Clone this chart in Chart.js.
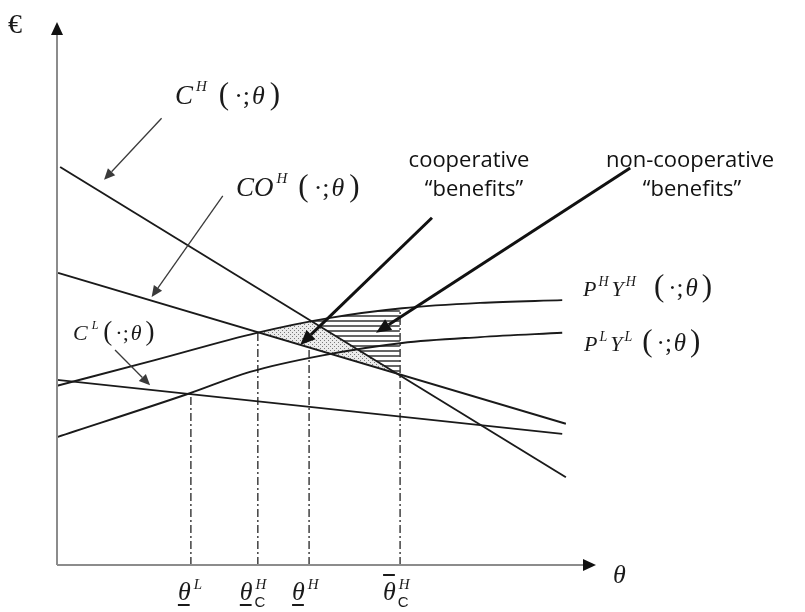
<!DOCTYPE html>
<html>
<head>
<meta charset="utf-8">
<script src="https://cdn.jsdelivr.net/npm/chart.js@4.4.1/dist/chart.umd.min.js"></script>
<style>
  html, body { margin: 0; padding: 0; background: #fff; }
  canvas { display: block; }
</style>
</head>
<body>
<canvas id="myChart" width="805" height="612"></canvas>
<script>
// curves: θ on x, € on y (arbitrary 0-10 units)
var costHx = [0.06, 9.73];
var costHy = [7.44, 1.64];
var coopHx = [0.02, 9.73];
var coopHy = [5.46, 2.64];
var costLx = [0, 9.66];
var costLy = [3.46, 2.45];
var revHx = [0, 1.87, 3.82, 5.22, 6.60, 8.09, 9.66];
var revHy = [3.35, 3.83, 4.34, 4.62, 4.80, 4.90, 4.95];
var revLx = [0, 2.54, 3.69, 5.03, 6.60, 8.09, 9.66];
var revLy = [2.39, 3.21, 3.61, 3.91, 4.15, 4.26, 4.34];

// thresholds on the θ axis and where their dash-dot line stops
var thresholds = ['thetaL', 'thetaCH', 'thetaH', 'thetaBarCH'];
var thresholdX = [2.56, 3.84, 4.82, 6.56];
var thresholdTop = [3.21, 4.37, 4.02, 4.80];

function pts(xs, ys) {
  return xs.map(function (x, i) { return { x: x, y: ys[i] }; });
}

var curve = { borderColor: '#1a1a1a', borderWidth: 1.9, pointRadius: 0, fill: false };
var datasets = [
  Object.assign({ label: 'CH', data: pts(costHx, costHy) }, curve),
  Object.assign({ label: 'COH', data: pts(coopHx, coopHy) }, curve),
  Object.assign({ label: 'CL', data: pts(costLx, costLy) }, curve),
  Object.assign({ label: 'PHYH', data: pts(revHx, revHy), cubicInterpolationMode: 'monotone' }, curve),
  Object.assign({ label: 'PLYL', data: pts(revLx, revLy), cubicInterpolationMode: 'monotone' }, curve)
];
thresholds.forEach(function (name, i) {
  datasets.push({
    label: name,
    data: [{ x: thresholdX[i], y: 0 }, { x: thresholdX[i], y: thresholdTop[i] }],
    borderColor: '#333', borderWidth: 1.4, borderDash: [8, 3, 2, 3],
    pointRadius: 0, fill: false
  });
});

// fill patterns
function makePattern(w, h, paint) {
  var c = document.createElement('canvas');
  c.width = w; c.height = h;
  paint(c.getContext('2d'));
  return document.createElement('canvas').getContext('2d').createPattern(c, 'repeat');
}
var dots = makePattern(4, 4, function (g) {
  g.fillStyle = '#ebebeb'; g.fillRect(0, 0, 4, 4);
  g.fillStyle = '#7a7a7a'; g.fillRect(0, 0, 1, 1); g.fillRect(2, 2, 1, 1);
});
var stripes = makePattern(4, 5, function (g) {
  g.fillStyle = '#ffffff'; g.fillRect(0, 0, 4, 5);
  g.fillStyle = '#666666'; g.fillRect(0, 0, 4, 2);
});

function yOn(chart, idx, X) {
  var line = chart.getDatasetMeta(idx).dataset;
  line.updateControlPoints(chart.chartArea, 'x');
  var p = line.interpolate({ x: X }, 'x');
  if (Array.isArray(p)) p = p[0];
  return p.y;
}

function band(ctx, a, b, topFn, botFn, fill) {
  var top = [], bot = [];
  for (var X = a; X <= b + 0.001; X += 1) {
    var t = topFn(X);
    top.push([X, t]);
    bot.push([X, Math.max(t, botFn(X))]);
  }
  ctx.beginPath();
  top.forEach(function (p, i) { i ? ctx.lineTo(p[0], p[1]) : ctx.moveTo(p[0], p[1]); });
  bot.reverse().forEach(function (p) { ctx.lineTo(p[0], p[1]); });
  ctx.closePath();
  ctx.fillStyle = fill;
  ctx.fill();
}

function arrow(ctx, x0, y0, x1, y1, width, len, half, color) {
  var ang = Math.atan2(y1 - y0, x1 - x0);
  var bx = x1 - len * Math.cos(ang), by = y1 - len * Math.sin(ang);
  ctx.strokeStyle = color; ctx.fillStyle = color; ctx.lineWidth = width;
  ctx.beginPath(); ctx.moveTo(x0, y0); ctx.lineTo(bx, by); ctx.stroke();
  ctx.beginPath();
  ctx.moveTo(x1, y1);
  ctx.lineTo(bx + half * Math.sin(ang), by - half * Math.cos(ang));
  ctx.lineTo(bx - half * Math.sin(ang), by + half * Math.cos(ang));
  ctx.closePath(); ctx.fill();
}

function runs(ctx, x, y, parts) {
  ctx.fillStyle = '#1a1a1a';
  ctx.textBaseline = 'alphabetic';
  ctx.textAlign = 'left';
  parts.forEach(function (p) {
    ctx.font = (p.it ? 'italic ' : '') + p.s + 'px ' + (p.sans ? '"Liberation Sans"' : '"Liberation Serif"');
    x += p.dx || 0;
    ctx.fillText(p.t, x, y + (p.dy || 0));
    x += ctx.measureText(p.t).width;
  });
}

// pointer arrows, in chart units
var pointers = [
  { from: [2.0, 8.35], to: [0.90, 7.20], thick: false },
  { from: [3.17, 6.90], to: [1.81, 5.01], thick: false },
  { from: [1.11, 4.02], to: [1.78, 3.36], thick: false },
  { from: [7.17, 6.49], to: [4.65, 4.11], thick: true },
  { from: [10.96, 7.42], to: [6.10, 4.34], thick: true }
];

var sketch = {
  id: 'sketch',
  beforeDatasetsDraw: function (chart) {
    var ctx = chart.ctx, xs = chart.scales.x;
    var a = xs.getPixelForValue(thresholdX[1]), b = xs.getPixelForValue(thresholdX[3]);
    ctx.save();
    band(ctx, a, b,
      function (X) { return Math.max(yOn(chart, 3, X), yOn(chart, 0, X)); },
      function (X) { return yOn(chart, 1, X); }, dots);
    band(ctx, a, b,
      function (X) { return yOn(chart, 3, X); },
      function (X) { return yOn(chart, 0, X); }, stripes);
    ctx.restore();
  },
  afterDatasetsDraw: function (chart) {
    var ctx = chart.ctx, xs = chart.scales.x, ys = chart.scales.y;
    var area = chart.chartArea;
    ctx.save();
    // axes
    ctx.strokeStyle = '#8c8c8c'; ctx.lineWidth = 2;
    ctx.beginPath();
    ctx.moveTo(area.left, area.bottom); ctx.lineTo(area.left, 34);
    ctx.moveTo(area.left, area.bottom); ctx.lineTo(584, area.bottom);
    ctx.stroke();
    ctx.fillStyle = '#111';
    ctx.beginPath();
    ctx.moveTo(area.left, 22); ctx.lineTo(area.left - 6, 35); ctx.lineTo(area.left + 6, 35); ctx.closePath(); ctx.fill();
    ctx.beginPath();
    ctx.moveTo(596, area.bottom); ctx.lineTo(583, area.bottom - 6); ctx.lineTo(583, area.bottom + 6); ctx.closePath(); ctx.fill();

    pointers.forEach(function (p) {
      var x0 = xs.getPixelForValue(p.from[0]), y0 = ys.getPixelForValue(p.from[1]);
      var x1 = xs.getPixelForValue(p.to[0]), y1 = ys.getPixelForValue(p.to[1]);
      if (p.thick) arrow(ctx, x0, y0, x1, y1, 3, 15, 6.5, '#111');
      else arrow(ctx, x0, y0, x1, y1, 1.3, 11, 5, '#3a3a3a');
    });

    // axis names
    runs(ctx, 8, 33, [{ t: '€', s: 28 }]);
    runs(ctx, 613, 583, [{ t: 'θ', s: 26, it: 1 }]);

    // curve labels
    runs(ctx, 175, 104, [
      { t: 'C', s: 27, it: 1 }, { t: 'H', s: 15, it: 1, dy: -13, dx: 3 },
      { t: '(', s: 31, dx: 12 }, { t: '·;', s: 26, dx: 5 }, { t: 'θ', s: 26, it: 1, dx: 2 }, { t: ')', s: 31, dx: 5 }
    ]);
    runs(ctx, 236, 196, [
      { t: 'CO', s: 27, it: 1 }, { t: 'H', s: 15, it: 1, dy: -13, dx: 3 },
      { t: '(', s: 31, dx: 11 }, { t: '·;', s: 26, dx: 5 }, { t: 'θ', s: 26, it: 1, dx: 2 }, { t: ')', s: 31, dx: 5 }
    ]);
    runs(ctx, 73, 340, [
      { t: 'C', s: 22, it: 1 }, { t: 'L', s: 12, it: 1, dy: -11, dx: 4 },
      { t: '(', s: 27, dx: 5 }, { t: '·;', s: 22, dx: 3 }, { t: 'θ', s: 22, it: 1, dx: 2 }, { t: ')', s: 27, dx: 4 }
    ]);
    runs(ctx, 583, 296, [
      { t: 'P', s: 22, it: 1 }, { t: 'H', s: 14, it: 1, dy: -10, dx: 2 },
      { t: 'Y', s: 22, it: 1, dx: 3 }, { t: 'H', s: 14, it: 1, dy: -10, dx: 2 },
      { t: '(', s: 31, dx: 18 }, { t: '·;', s: 25, dx: 4 }, { t: 'θ', s: 25, it: 1, dx: 2 }, { t: ')', s: 31, dx: 4 }
    ]);
    runs(ctx, 584, 351, [
      { t: 'P', s: 22, it: 1 }, { t: 'L', s: 14, it: 1, dy: -10, dx: 2 },
      { t: 'Y', s: 22, it: 1, dx: 3 }, { t: 'L', s: 14, it: 1, dy: -10, dx: 2 },
      { t: '(', s: 31, dx: 10 }, { t: '·;', s: 25, dx: 4 }, { t: 'θ', s: 25, it: 1, dx: 2 }, { t: ')', s: 31, dx: 4 }
    ]);

    // benefit captions
    ctx.fillStyle = '#111';
    ctx.textAlign = 'center'; ctx.textBaseline = 'middle';
    ctx.font = '22px "Open Sans"';
    ctx.fillText('cooperative', 469, 161);
    ctx.fillText('\u201Cbenefits\u201D', 474, 190);
    ctx.fillText('non-cooperative', 690, 161);
    ctx.fillText('\u201Cbenefits\u201D', 692, 190);

    // threshold labels under the θ axis
    var marks = [
      { off: -13, sup: 'L', sub: '', bar: 'under' },
      { off: -18, sup: 'H', sub: 'C', bar: 'under' },
      { off: -17, sup: 'H', sub: '', bar: 'under' },
      { off: -17, sup: 'H', sub: 'C', bar: 'over' }
    ];
    marks.forEach(function (m, i) {
      var x = xs.getPixelForValue(thresholdX[i]) + m.off;
      ctx.textAlign = 'left'; ctx.textBaseline = 'alphabetic';
      ctx.font = 'italic 26px "Liberation Serif"';
      ctx.fillStyle = '#1a1a1a';
      ctx.fillText('θ', x, 600);
      var w = ctx.measureText('θ').width;
      ctx.fillRect(x, m.bar === 'under' ? 604 : 574, w - 1, 2);
      ctx.font = 'italic 15px "Liberation Serif"';
      ctx.fillText(m.sup, x + w + 3, 589);
      if (m.sub) {
        ctx.font = '15px "Liberation Sans"';
        ctx.fillText(m.sub, x + w + 2, 607);
      }
    });
    ctx.restore();
  }
};

new Chart(document.getElementById('myChart'), {
  type: 'line',
  data: { datasets: datasets },
  options: {
    responsive: false,
    devicePixelRatio: 1,
    animation: false,
    events: [],
    layout: { padding: { left: 57, right: 225, top: 30, bottom: 47 } },
    scales: {
      x: { type: 'linear', min: 0, max: 10, display: false },
      y: { type: 'linear', min: 0, max: 10, display: false }
    },
    plugins: { legend: { display: false }, tooltip: { enabled: false } }
  },
  plugins: [sketch]
});
</script>
</body>
</html>
